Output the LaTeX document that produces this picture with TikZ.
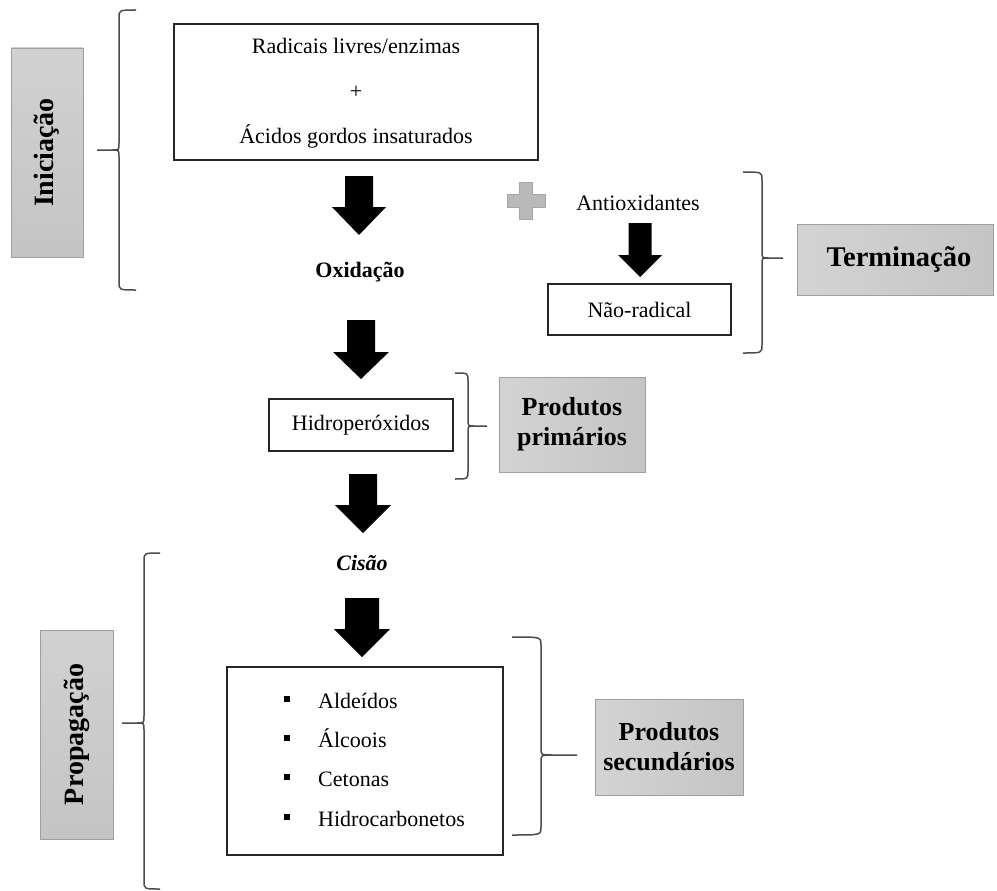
\documentclass[tikz,border=0pt]{standalone}
\usepackage{fontspec}
\setmainfont{Liberation Serif}
\usetikzlibrary{calc}

% block arrow pointing down: centre x, shaft top, head top, tip, half shaft, half head
\newcommand{\blockdown}[6]{%
  \fill[black] ({#1-#5},#2) -- ({#1+#5},#2) -- ({#1+#5},#3) -- ({#1+#6},#3)
    -- (#1,#4) -- ({#1-#6},#3) -- ({#1-#5},#3) -- cycle;}

% curly bracket: hook x, spine x, top y, bottom y, tip x, tip y
\newcommand{\curlybrk}[6]{%
  \draw[brk] (#1,#3) .. controls (#2,#3) .. (#2,{#3+8}) -- (#2,{#6-7})
    .. controls (#2,#6) .. ({#2+0.3*(#5-#2)},#6) -- (#5,#6);
  \draw[brk] ({#2+0.3*(#5-#2)},#6) .. controls (#2,#6) .. (#2,{#6+7})
    -- (#2,{#4-8}) .. controls (#2,#4) .. (#1,#4);}

\tikzset{
  frame/.style={draw=black!85, line width=1.3pt, fill=white, inner sep=0pt},
  tag/.style={draw=gray!75, line width=0.8pt, inner sep=0pt},
  tagh/.style={tag, left color=gray!34, right color=gray!46},
  tagv/.style={tag, top color=gray!36, bottom color=gray!46},
  tagtext/.style={font=\bfseries\fontsize{26}{30}\selectfont, align=center},
  brk/.style={draw=black!70, line width=1.5pt},
  body/.style={font=\fontsize{22}{26}\selectfont},
}

\begin{document}
\begin{tikzpicture}[x=1pt,y=-1pt]
\useasboundingbox (0,0) rectangle (997,891);

% ---- boxes of the reaction chain
\node[frame, minimum width=364, minimum height=136] (start) at (356,92) {};
\node[body, align=center, font=\fontsize{22}{45}\selectfont] (starttext) at (356,93)
  {Radicais livres/enzimas\\+\\Ácidos gordos insaturados};

\node[body, font=\bfseries\fontsize{22}{26}\selectfont] (oxid) at (360,272) {Oxidação};

\node[frame, minimum width=184, minimum height=52] (hidro) at (361,425) {};
\node[body] at (hidro.center) {Hidroperóxidos};

\node[body, font=\bfseries\itshape\fontsize{22}{26}\selectfont] (cisao) at (362,563) {Cisão};

\node[frame, minimum width=276, minimum height=188] (lista) at (365,761) {};
\foreach \yb/\txt [count=\i] in {708/Aldeídos, 747/Álcoois, 786/Cetonas, 826/Hidrocarbonetos}{
  \node[fill=black, minimum size=6, inner sep=0pt] (b\i) at (287,{\yb-9}) {};
  \node[body, anchor=base west, inner sep=0pt] (item\i) at (318,\yb) {\txt};
}

% ---- antioxidant branch
\fill[gray!55, draw=gray!70, line width=0.6pt]
  (519.5,182) -- (532.5,182) -- (532.5,194) -- (545,194) -- (545,207) -- (532.5,207)
  -- (532.5,219) -- (519.5,219) -- (519.5,207) -- (507,207) -- (507,194) -- (519.5,194) -- cycle;
\node[body] (antiox) at (638,203) {Antioxidantes};
\node[frame, minimum width=183, minimum height=51] (naorad) at (639.5,309.5) {};
\node[body] at (naorad.center) {Não-radical};

% ---- block arrows
\blockdown{359}{176}{207}{235}{14}{27}
\blockdown{361}{320}{352}{379}{14}{28}
\blockdown{363}{474}{505}{533}{14}{28}
\blockdown{362}{598}{629}{657}{17}{28}
\blockdown{640}{223}{255}{277}{11.5}{22}

% ---- stage labels
\node[tagv, minimum width=72, minimum height=209] (inic) at (47,152.5) {};
\node[tagtext, font=\bfseries\fontsize{28}{32}\selectfont, rotate=90] at (inic.center) {Iniciação};

\node[tagv, minimum width=73, minimum height=209] (prop) at (76.5,734.5) {};
\node[tagtext, font=\bfseries\fontsize{28}{32}\selectfont, rotate=90] at (prop.center) {Propagação};

\node[tagh, minimum width=196, minimum height=71] (term) at (895,259.5) {};
\node[tagtext, font=\bfseries\fontsize{28.5}{32}\selectfont] at (899,259.5) {Terminação};

\node[tagh, minimum width=146, minimum height=95] (prim) at (572,424.5) {};
\node[tagtext] at (prim.center) {Produtos\\primários};

\node[tagh, minimum width=148, minimum height=96] (sec) at (669,747) {};
\node[tagtext] at (sec.center) {Produtos\\secundários};

% ---- brackets
\curlybrk{136}{119}{10}{290}{97}{150}
\curlybrk{743}{762}{172}{353}{783}{258}
\curlybrk{455}{468}{373}{479}{487}{426}
\curlybrk{160}{144}{553}{889}{122}{723}
\curlybrk{512}{541}{637}{835}{577}{755}
\end{tikzpicture}
\end{document}
